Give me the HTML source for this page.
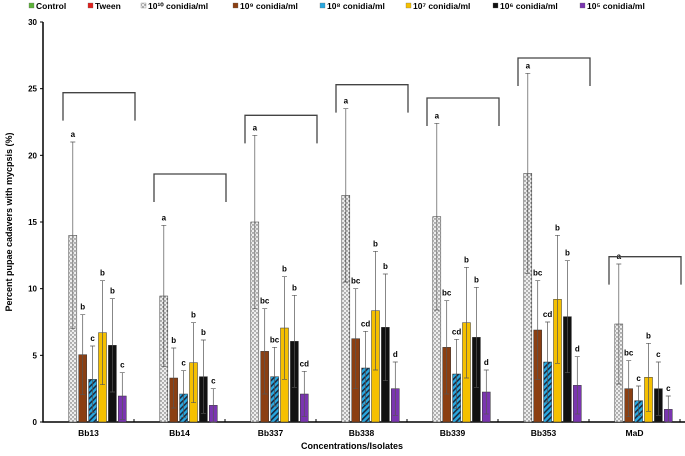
<!DOCTYPE html>
<html><head><meta charset="utf-8"><style>
body{margin:0;background:#fff;font-family:"Liberation Sans",sans-serif}
svg text{font-family:"Liberation Sans",sans-serif;font-weight:bold}
</style></head><body>
<svg width="685" height="451" xmlns="http://www.w3.org/2000/svg">
<defs>
<pattern id="dots" width="4" height="4" patternUnits="userSpaceOnUse"><rect width="4" height="4" fill="#eee"/><circle cx="1" cy="1" r="0.7" fill="#555"/><circle cx="3" cy="3" r="0.7" fill="#555"/></pattern>
<pattern id="hatch" width="4" height="4" patternUnits="userSpaceOnUse" patternTransform="rotate(45)"><rect width="4" height="4" fill="#29a8e0"/><rect width="1.6" height="4" fill="#1a2a40"/></pattern>
</defs>
<g id="legend"></g>
<g id="axes"></g>
<g id="plot"></g>
<text x="12" y="222" font-size="9" text-anchor="middle" transform="rotate(-90 12 222)">Percent pupae cadavers with mycpsis (%)</text>
<text x="352" y="449" font-size="9" text-anchor="middle">Concentrations/Isolates</text>
</svg>
<script>
const categories=["Bb13","Bb14","Bb337","Bb338","Bb339","Bb353","MaD"];
const s1e10=[14,9.45,15,17,15.4,18.65,7.35];
const s1e9=[5.05,3.3,5.3,6.25,5.6,6.9,2.5];
const s1e8=[3.2,2.1,3.4,4.05,3.6,4.5,1.6];
const s1e7=[6.7,4.45,7.05,8.35,7.45,9.2,3.35];
const s1e6=[5.75,3.4,6.05,7.1,6.35,7.9,2.5];
const s1e5=[1.95,1.25,2.1,2.5,2.25,2.75,0.95];
const e1e10=[7,5.3,6.5,6.5,7,7.5,4.5];
const e1e9=[3,2.25,3.2,3.75,3.5,3.7,2.1];
const e1e8=[2.5,1.75,2.2,2.75,2.6,3,1.1];
const e1e7=[3.9,3,3.85,4.45,4.15,4.8,2.55];
const e1e6=[3.5,2.75,3.45,4,3.75,4.2,2];
const e1e5=[1.75,1.25,1.7,2,1.65,2.15,1];
const letters=[["a","b","c","b","b","c"],["a","b","c","b","b","c"],["a","bc","bc","b","b","cd"],["a","bc","cd","b","b","d"],["a","bc","cd","b","b","d"],["a","bc","cd","b","b","d"],["a","bc","c","b","c","c"]];
const yTicks=[0,5,10,15,20,25,30];
const brackets=[24.7,18.6,23,25.3,24.3,27.3,12.4];
const legendLabels=["Control","Tween","10¹⁰ conidia/ml","10⁹ conidia/ml","10⁸ conidia/ml","10⁷ conidia/ml","10⁶ conidia/ml","10⁵ conidia/ml"];
const series=[s1e10,s1e9,s1e8,s1e7,s1e6,s1e5];
const errs=[e1e10,e1e9,e1e8,e1e7,e1e6,e1e5];
const fills=["url(#dots)","#8b3f12","url(#hatch)","#f5c000","#111","#7a35b0"];
const legFills=["#5db33a","#e0201c","url(#dots)","#8b3f12","#29a8e0","#f5c000","#111","#7a35b0"];
const NS="http://www.w3.org/2000/svg";
const X0=43,CW=91,Y0=422,YS=400/30;
const y=v=>Y0-v*YS;
const catX=i=>X0+CW*i;
function mk(t,a,p){const e=document.createElementNS(NS,t);for(const k in a)e.setAttribute(k,a[k]);p.appendChild(e);return e;}
const plot=document.getElementById('plot'),axes=document.getElementById('axes'),leg=document.getElementById('legend');
const legX=[29,88,141,233,320,406,493,580];
legendLabels.forEach((l,i)=>{
 const r=mk('rect',{x:legX[i],y:3,width:5,height:5,fill:legFills[i],stroke:'#666','stroke-width':0.3},leg);
 
 
 const t=mk('text',{x:legX[i]+7,y:9,'font-size':8.5},leg);t.textContent=l;
 
 
});
const ax=mk('path',{d:`M${X0} ${y(30)} V${Y0} H685`,stroke:'#000','stroke-width':1.5,fill:'none'},axes);


yTicks.forEach(v=>{
 mk('line',{x1:X0-3,x2:X0,y1:y(v),y2:y(v),stroke:'#000'},axes);
 const t=mk('text',{x:X0-6,y:y(v)+3,'font-size':8,'text-anchor':'end'},axes);t.textContent=v;
 
 
});
categories.forEach((c,i)=>{
 mk('line',{x1:catX(i+1),x2:catX(i+1),y1:Y0,y2:Y0-3,stroke:'#000'},axes);
 const t=mk('text',{x:catX(i)+CW/2,y:436,'font-size':8.5,'text-anchor':'middle'},axes);t.textContent=c;
 
 
 series.forEach((s,j)=>{
  const bx=catX(i)+6+9.9*(j+2),v=s[i],e=errs[j][i];
  const b=mk('rect',{x:bx,y:y(v),width:8,height:v*YS,fill:fills[j],stroke:'#333','stroke-width':0.5},plot);
  
  
  const cx=bx+4;
  mk('path',{d:`M${cx} ${y(v+e)} V${y(Math.max(v-e,0))} M${cx-2.5} ${y(v+e)} H${cx+2.5} M${cx-2.5} ${y(Math.max(v-e,0))} H${cx+2.5}`,stroke:'#555','stroke-width':0.7,fill:'none'},plot);
  const t=mk('text',{x:cx,y:y(v+e)-5,'font-size':8,'text-anchor':'middle'},plot);t.textContent=letters[i][j];
  
  
 });
 const by=y(brackets[i]),l=catX(i)+20,r=catX(i)+92;
 const br=mk('path',{d:`M${l} ${by+28} V${by} H${r} V${by+28}`,stroke:'#444','stroke-width':1.3,fill:'none'},plot);
 
 
});
</script>
</body></html>
